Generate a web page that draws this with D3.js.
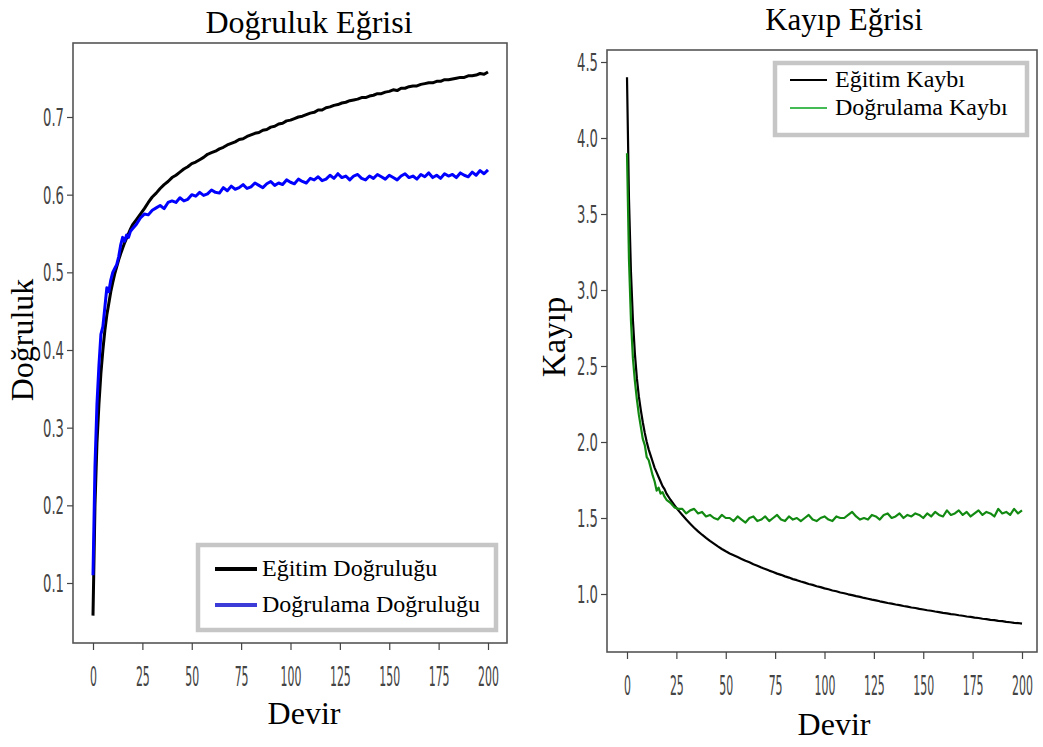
<!DOCTYPE html>
<html>
<head>
<meta charset="utf-8">
<script src="https://cdn.jsdelivr.net/npm/d3@7/dist/d3.min.js"></script>
<style>
  html, body { margin: 0; padding: 0; background: #fff; }
  svg { display: block; }
  .serif { font-family: "Liberation Serif", "Times New Roman", serif; fill: #000; }
  .tick text { font-family: "DejaVu Sans", sans-serif; fill: #444; }
  .tick line { stroke: #444; stroke-width: 1.2; }
</style>
</head>
<body>
<svg id="chart" width="1043" height="747"></svg>
<script>
// ---------------- DATA ----------------
const epochs = [0,1,2,3,4,5,6,7,8,9,10,11,12,13,14,15,16,17,18,19,20,
  22,24,26,28,30,32,34,36,38,40,42,44,46,48,50,52,54,56,58,60,62,64,66,68,70,72,74,76,78,80,
  82,84,86,88,90,92,94,96,98,100,102,104,106,108,110,112,114,116,118,120,122,124,126,128,130,
  132,134,136,138,140,142,144,146,148,150,152,154,156,158,160,162,164,166,168,170,172,174,176,178,180,
  182,184,186,188,190,192,194,196,198,200];

const trainAcc = [0.058,0.20,0.28,0.33,0.37,0.40,0.425,0.445,0.46,0.475,0.487,0.498,0.507,0.516,0.524,0.531,0.538,0.544,0.550,0.556,0.561,
  0.568,0.575,0.582,0.590,0.597,0.602,0.608,0.613,0.617,0.622,
  0.625,0.629,0.633,0.636,0.640,0.642,0.645,0.648,0.652,0.654,
  0.656,0.659,0.661,0.664,0.666,0.668,0.671,0.672,0.675,0.677,
  0.679,0.680,0.683,0.684,0.687,0.688,0.691,0.692,0.695,0.696,
  0.698,0.700,0.701,0.703,0.705,0.706,0.709,0.709,0.712,0.713,
  0.715,0.716,0.718,0.719,0.721,0.722,0.723,0.725,0.725,0.727,
  0.728,0.730,0.730,0.732,0.733,0.735,0.734,0.737,0.737,0.739,
  0.740,0.740,0.742,0.743,0.744,0.744,0.746,0.746,0.748,0.748,
  0.749,0.750,0.751,0.751,0.753,0.753,0.754,0.756,0.755,0.758];

const valAcc = [0.110,0.25,0.33,0.38,0.42,0.43,0.455,0.48,0.475,0.49,0.50,0.505,0.51,0.52,0.535,0.545,0.54,0.548,0.545,0.553,0.556,
  0.562,0.570,0.575,0.574,0.580,0.583,0.586,0.582,0.590,0.592,
  0.590,0.596,0.592,0.594,0.600,0.598,0.603,0.599,0.601,0.606,
  0.603,0.602,0.609,0.605,0.611,0.607,0.609,0.613,0.608,0.610,
  0.615,0.612,0.609,0.614,0.617,0.612,0.615,0.613,0.619,0.616,
  0.614,0.620,0.617,0.615,0.621,0.619,0.623,0.618,0.620,0.625,
  0.621,0.627,0.622,0.624,0.619,0.624,0.626,0.621,0.619,0.624,
  0.621,0.626,0.623,0.620,0.625,0.622,0.619,0.624,0.627,0.622,
  0.624,0.620,0.626,0.623,0.628,0.622,0.625,0.621,0.627,0.624,
  0.626,0.622,0.628,0.625,0.623,0.629,0.625,0.631,0.627,0.632];

const trainLoss = [4.40,3.60,3.12,2.80,2.58,2.42,2.30,2.21,2.13,2.06,2.00,1.95,1.91,1.87,1.83,1.80,1.77,1.74,1.71,1.69,1.66,
  1.62,1.585,1.55,1.52,1.49,1.462,1.436,1.412,1.390,1.369,
  1.349,1.331,1.313,1.296,1.281,1.267,1.255,1.243,1.231,1.219,
  1.209,1.196,1.186,1.174,1.165,1.154,1.145,1.134,1.126,1.116,
  1.108,1.098,1.091,1.082,1.075,1.066,1.060,1.051,1.045,1.037,
  1.031,1.023,1.018,1.010,1.005,0.998,0.993,0.986,0.981,0.974,
  0.969,0.963,0.958,0.952,0.947,0.941,0.937,0.931,0.927,0.921,
  0.917,0.911,0.908,0.902,0.898,0.893,0.890,0.885,0.881,0.876,
  0.873,0.868,0.865,0.860,0.857,0.852,0.849,0.845,0.842,0.837,
  0.835,0.830,0.828,0.823,0.821,0.817,0.814,0.810,0.809,0.805];

const valLoss = [3.90,3.20,2.80,2.55,2.40,2.28,2.18,2.10,2.02,1.98,1.90,1.88,1.83,1.78,1.74,1.68,1.70,1.66,1.67,1.64,1.62,
  1.60,1.57,1.56,1.56,1.53,1.55,1.56,1.53,1.54,1.51,
  1.52,1.50,1.49,1.52,1.50,1.50,1.48,1.51,1.49,1.47,
  1.50,1.51,1.48,1.49,1.51,1.48,1.50,1.52,1.49,1.48,
  1.51,1.49,1.50,1.48,1.50,1.52,1.49,1.48,1.50,1.51,
  1.49,1.48,1.51,1.50,1.50,1.52,1.54,1.51,1.49,1.50,
  1.49,1.52,1.51,1.49,1.52,1.53,1.50,1.51,1.53,1.50,
  1.52,1.51,1.53,1.52,1.50,1.53,1.51,1.54,1.52,1.51,
  1.55,1.52,1.53,1.55,1.52,1.54,1.51,1.53,1.55,1.52,
  1.54,1.53,1.51,1.56,1.53,1.54,1.52,1.56,1.53,1.55];

const xTicks = [0,25,50,75,100,125,150,175,200];
const accTicks = [0.1,0.2,0.3,0.4,0.5,0.6,0.7];
const accTickLabels = ["0.1","0.2","0.3","0.4","0.5","0.6","0.7"];
const lossTicks = [1.0,1.5,2.0,2.5,3.0,3.5,4.0,4.5];
const lossTickLabels = ["1.0","1.5","2.0","2.5","3.0","3.5","4.0","4.5"];

const accTitle = "Doğruluk Eğrisi";
const lossTitle = "Kayıp Eğrisi";
const accYLabel = "Doğruluk";
const lossYLabel = "Kayıp";
const xLabel = "Devir";
const accSeriesNames = ["Eğitim Doğruluğu","Doğrulama Doğruluğu"];
const lossSeriesNames = ["Eğitim Kaybı","Doğrulama Kaybı"];

// ---------------- DRAW ----------------
const svg = d3.select("#chart");
svg.append("rect").attr("width",1043).attr("height",747).attr("fill","#fff");

function panel(cfg) {
  const g = svg.append("g");
  const x = d3.scaleLinear().domain([0,200]).range(cfg.xRange);
  const y = d3.scaleLinear().domain(cfg.yDomain).range(cfg.yRange);
  const f = cfg.frame; // [left, top, right, bottom]

  // frame
  g.append("rect").attr("x",f[0]).attr("y",f[1]).attr("width",f[2]-f[0]).attr("height",f[3]-f[1])
    .attr("fill","none").attr("stroke","#555").attr("stroke-width",1.6);

  // x axis
  const xa = g.append("g").attr("transform",`translate(0,${f[3]})`)
    .call(d3.axisBottom(x).tickValues(xTicks).tickSize(7).tickSizeOuter(0).tickFormat(d3.format("d")));
  xa.select(".domain").remove();
  xa.selectAll(".tick text").attr("y",0).attr("dy",0).attr("font-size",26)
    .attr("transform",`translate(0,${cfg.xTickBase - f[3]}) scale(0.42,1)`);

  // y axis
  const ya = g.append("g").attr("transform",`translate(${f[0]},0)`)
    .call(d3.axisLeft(y).tickValues(cfg.yTicks).tickSize(6).tickSizeOuter(0)
      .tickFormat((d,i) => cfg.yTickLabels[i]));
  ya.select(".domain").remove();
  ya.selectAll(".tick text").attr("x",0).attr("dy","0.36em").attr("font-size",24)
    .attr("transform","translate(-9,0) scale(0.55,1)");

  // lines
  const line = (vals) => d3.line().x((d,i) => x(epochs[i])).y((d,i) => y(vals[i]))(vals);
  cfg.series.forEach(s => {
    g.append("path").attr("d", line(s.values)).attr("fill","none")
      .attr("stroke", s.color).attr("stroke-width", s.width).attr("stroke-linejoin","round");
  });

  // titles
  g.append("text").attr("class","serif").attr("x",cfg.title[0]).attr("y",cfg.title[1])
    .attr("text-anchor","middle").attr("font-size",cfg.title[2]).text(cfg.titleText);
  g.append("text").attr("class","serif").attr("x",cfg.xlab[0]).attr("y",cfg.xlab[1])
    .attr("text-anchor","middle").attr("font-size",32).text(xLabel);
  g.append("text").attr("class","serif")
    .attr("transform",`translate(${cfg.ylab[0]},${cfg.ylab[1]}) rotate(-90)`)
    .attr("text-anchor","middle").attr("font-size",cfg.ylab[2]).text(cfg.ylabText);

  // legend
  const L = cfg.legend; // box [x,y,w,h]
  g.append("rect").attr("x",L.box[0]).attr("y",L.box[1]).attr("width",L.box[2]).attr("height",L.box[3])
    .attr("fill","#fff").attr("stroke","#c6c6c6").attr("stroke-width",4.5);
  cfg.series.forEach((s,i) => {
    const ly = L.rows[i];
    g.append("line").attr("x1",L.line[0]).attr("x2",L.line[1]).attr("y1",ly).attr("y2",ly)
      .attr("stroke", s.legendColor).attr("stroke-width", L.lw);
    g.append("text").attr("class","serif").attr("x",L.textX).attr("y",ly).attr("dy","0.3em")
      .attr("font-size",24).text(s.name);
  });
}

panel({
  xRange:[93,488], yDomain:[0.1,0.7], yRange:[583,117], frame:[73,43,507,643],
  yTicks:accTicks, yTickLabels:accTickLabels, xTickBase:686,
  series:[
    {values:trainAcc, color:"#000", width:3, legendColor:"#000", name:accSeriesNames[0]},
    {values:valAcc, color:"#0000ff", width:3, legendColor:"#3c3cd8", name:accSeriesNames[1]}
  ],
  title:[309,33,32], titleText:accTitle,
  xlab:[304,724], ylab:[33,340,32], ylabText:accYLabel,
  legend:{box:[198,545,298,85], line:[215,257], rows:[569,605], textX:262, lw:4}
});

panel({
  xRange:[627,1022], yDomain:[1.0,4.5], yRange:[594,62], frame:[607,50,1037,652],
  yTicks:lossTicks, yTickLabels:lossTickLabels, xTickBase:695,
  series:[
    {values:trainLoss, color:"#000", width:2.2, legendColor:"#000", name:lossSeriesNames[0]},
    {values:valLoss, color:"#128a12", width:2.2, legendColor:"#44bb55", name:lossSeriesNames[1]}
  ],
  title:[844,30,31], titleText:lossTitle,
  xlab:[834,735], ylab:[565,337,33], ylabText:lossYLabel,
  legend:{box:[775,63,252,72], line:[790,827], rows:[80,108], textX:835, lw:2}
});
</script>
</body>
</html>
